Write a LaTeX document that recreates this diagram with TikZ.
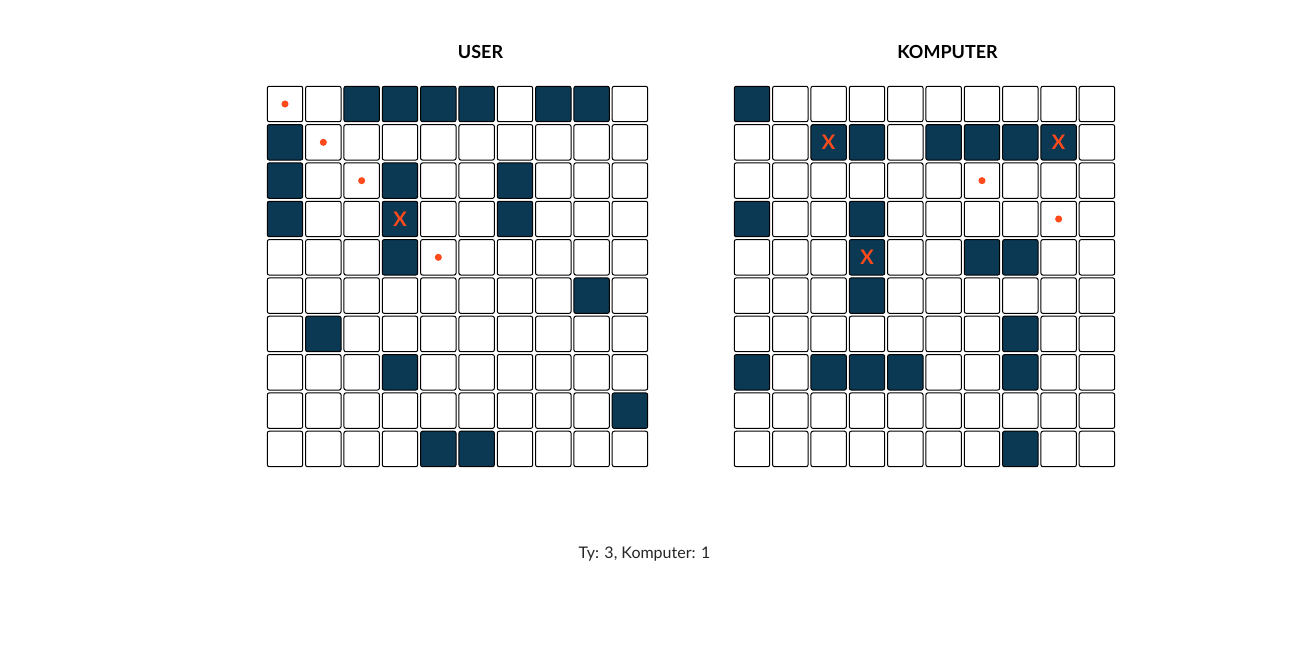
\documentclass[tikz,border=0pt]{standalone}
\usepackage{fontspec}
\setmainfont{Lato}
\usetikzlibrary{positioning}
\definecolor{shipblue}{HTML}{0B3954}
\definecolor{hitred}{HTML}{FF4A1C}

\begin{document}
\begin{tikzpicture}[x=0.75pt, y=-0.75pt,
	cell/.style={draw=black, rounded corners=1.5pt, minimum size=26.6pt, inner sep=0pt, line width=0.75pt},
	miss/.style={circle, fill=hitred, inner sep=0pt, minimum size=5.3pt},
	shot/.style={text=hitred, inner sep=0pt, font=\bfseries\fontsize{15}{15}\selectfont},
	title/.style={font=\bfseries\fontsize{13.5}{16}\selectfont}]

	\useasboundingbox (0,0) rectangle (1296,663);

	\node[title] (tu) at (480.5,52) {USER};
	\node[title] (tk) at (947.5,52) {KOMPUTER};

	% user board
	\foreach \row [count=\r from 0] in {
		{0,0,1,1,1,1,0,1,1,0}, {1,0,0,0,0,0,0,0,0,0}, {1,0,0,1,0,0,1,0,0,0},
		{1,0,0,1,0,0,1,0,0,0}, {0,0,0,1,0,0,0,0,0,0}, {0,0,0,0,0,0,0,0,1,0},
		{0,1,0,0,0,0,0,0,0,0}, {0,0,0,1,0,0,0,0,0,0}, {0,0,0,0,0,0,0,0,0,1},
		{0,0,0,0,1,1,0,0,0,0}}
		\foreach \v [count=\c from 0] in \row {
			\ifnum\v=1 \def\col{shipblue}\else\def\col{white}\fi
			\node[cell, fill=\col] (u-\r-\c) at (285+38.33*\c, 104+38.33*\r) {};
		}

	% komputer board
	\foreach \row [count=\r from 0] in {
		{1,0,0,0,0,0,0,0,0,0}, {0,0,1,1,0,1,1,1,1,0}, {0,0,0,0,0,0,0,0,0,0},
		{1,0,0,1,0,0,0,0,0,0}, {0,0,0,1,0,0,1,1,0,0}, {0,0,0,1,0,0,0,0,0,0},
		{0,0,0,0,0,0,0,1,0,0}, {1,0,1,1,1,0,0,1,0,0}, {0,0,0,0,0,0,0,0,0,0},
		{0,0,0,0,0,0,0,1,0,0}}
		\foreach \v [count=\c from 0] in \row {
			\ifnum\v=1 \def\col{shipblue}\else\def\col{white}\fi
			\node[cell, fill=\col] (k-\r-\c) at (752+38.33*\c, 104+38.33*\r) {};
		}

	\foreach \r/\c [count=\i] in {0/0, 1/1, 2/2, 4/4}
		\node[miss] (um\i) at (u-\r-\c) {};
	\node[shot] (us1) at (u-3-3) {X};

	\foreach \r/\c [count=\i] in {2/6, 3/8}
		\node[miss] (km\i) at (k-\r-\c) {};
	\foreach \r/\c [count=\i] in {1/2, 1/8, 4/3}
		\node[shot] (ks\i) at (k-\r-\c) {X};

	\node[text=black!85, font=\fontsize{12}{14}\selectfont] (score) at (644.5,554) {Ty: 3, Komputer: 1};
\end{tikzpicture}
\end{document}
